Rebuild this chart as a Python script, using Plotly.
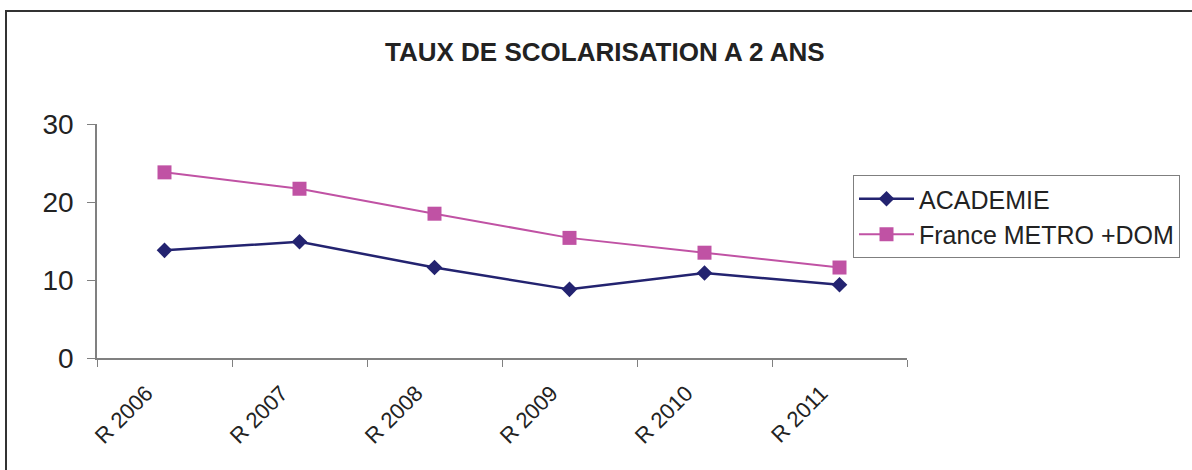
import plotly.graph_objects as go

categories = ["R 2006", "R 2007", "R 2008", "R 2009", "R 2010", "R 2011"]
academie = [13.8, 14.9, 11.6, 8.8, 10.9, 9.4]
france = [23.8, 21.7, 18.5, 15.4, 13.5, 11.6]
series_names = ["ACADEMIE", "France METRO +DOM"]
title_text = "TAUX DE SCOLARISATION A 2 ANS"
y_ticks = [0, 10, 20, 30]

W, H = 1192, 470
L, R, T, B = 97, 285, 124, 112
pw, ph = W - L - R, H - T - B

def px(x):
    return (x - L) / pw

def py(y):
    return (H - B - y) / ph

FONT = "Liberation Sans, Arial, sans-serif"

fig = go.Figure()
fig.add_trace(go.Scatter(
    x=categories, y=academie, name=series_names[0], mode="lines+markers",
    line=dict(color="#232370", width=2.5),
    marker=dict(symbol="diamond", size=12, color="#232370"),
))
fig.add_trace(go.Scatter(
    x=categories, y=france, name=series_names[1], mode="lines+markers",
    line=dict(color="#C052A4", width=2),
    marker=dict(symbol="square", size=14, color="#C052A4"),
))

fig.update_layout(
    width=W, height=H,
    margin=dict(l=L, r=R, t=T, b=B),
    paper_bgcolor="white", plot_bgcolor="white",
    font=dict(family=FONT, color="#222222"),
    showlegend=True,
    legend=dict(
        x=px(853), y=py(175), xanchor="left", yanchor="top",
        bordercolor="#7f7f7f", borderwidth=1, bgcolor="white",
        font=dict(size=25, family=FONT, color="#222222"),
        tracegroupgap=0, itemwidth=55,
    ),
    annotations=[dict(
        text="<b>" + title_text + "</b>", x=px(605), y=py(52),
        xref="paper", yref="paper", xanchor="center", yanchor="middle",
        showarrow=False, font=dict(size=26, family=FONT, color="#222222"),
    )],
    shapes=[dict(
        type="rect", xref="paper", yref="paper",
        x0=px(6), x1=px(1200), y0=py(480), y1=py(11),
        line=dict(color="#333333", width=2), fillcolor="rgba(0,0,0,0)",
    )],
)

fig.update_xaxes(
    type="category", tickangle=-45, tickson="boundaries",
    ticks="outside", ticklen=7, tickcolor="#808080",
    showline=True, linecolor="#808080", linewidth=1.5,
    showgrid=False, zeroline=False,
    tickfont=dict(size=22, family=FONT, color="#222222"),
    ticklabelshift=-18, ticklabelstandoff=12,
    range=[-0.5, 5.5],
)
fig.update_yaxes(
    range=[0, 30], tickvals=y_ticks,
    ticks="outside", ticklen=8, tickcolor="#808080",
    showline=True, linecolor="#808080", linewidth=1.5,
    showgrid=False, zeroline=False,
    tickfont=dict(size=28, family=FONT, color="#222222"),
    ticklabelstandoff=8,
)

fig.write_html(
    "out.html",
    config={"displayModeBar": False},
    post_script="document.body.style.margin='0';document.body.style.overflow='hidden';",
)
